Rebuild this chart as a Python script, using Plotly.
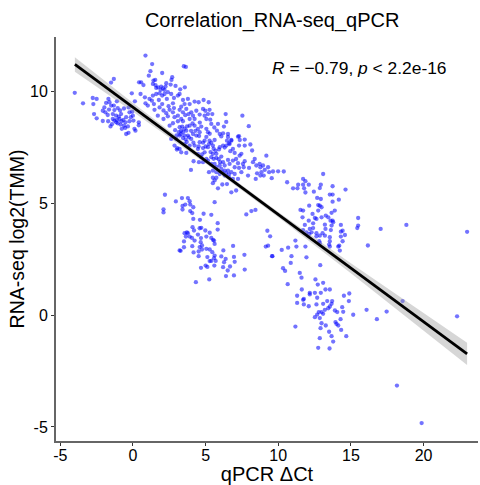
import plotly.graph_objects as go

# (qPCR dCt, RNA-seq log2 TMM) pairs, by visual cluster
left_cluster = [
(-4.01,9.95),(-3.44,9.48),(-2.77,9.72),(-2.5,9.68),(-2.73,9.45),(-2.68,9.0),(-2.5,8.81),(-2.08,8.69),
(-1.69,9.68),(-1.85,9.5),(-1.62,9.53),(-1.5,9.38),(-1.32,9.38),(-1.11,9.57),(-1.97,9.3),(-2.08,9.15),
(-1.9,9.08),(-1.74,8.96),(-1.71,8.68),(-1.39,9.0),(-1.28,9.18),(-1.05,9.27),(-0.89,9.16),(-0.82,9.0),
(-1.16,8.93),(-0.98,8.89),(-1.39,8.78),(-1.28,8.71),(-1.12,8.74),(-0.93,8.78),(-0.79,8.68),(-1.05,8.59),
(-0.86,8.53),(-1.16,8.63),(-0.77,8.34),(-0.54,8.38),(-0.47,8.11),(-0.31,8.16),(-0.66,8.74),(-0.47,8.86),
(-0.52,8.63),(-0.24,8.68),(-0.15,8.86),(-0.24,9.08),(-0.06,9.11),(-0.01,8.93),(0.03,8.71),(0.1,8.34),
(0.17,8.26),(0.4,8.63),(0.4,8.5),(0.13,9.57),(-1.32,10.57),(-1.51,10.41),(-0.08,9.93),(-1.55,8.45),
(-1.65,9.2),(-0.35,8.45),(-0.62,9.25),(-1.45,8.55),(-0.3,9.3),(-0.62,8.48),
]
upper_cluster = [
(0.86,11.62),(1.32,11.24),(1.2,10.92),(1.09,10.72),(3.5,11.14),(3.64,11.11),(2.01,10.84),(2.7,10.65),
(2.65,10.53),(1.41,10.5),(1.53,10.53),(1.37,10.35),(1.55,10.3),(0.72,10.3),(0.56,10.42),(0.42,10.42),
(1.73,10.2),(1.94,10.23),(2.29,10.38),(2.24,10.23),(2.06,10.15),(1.9,10.08),(2.17,10.08),(2.59,10.32),
(2.93,10.26),(3.57,10.2),(3.25,10.11),(1.6,9.9),(1.37,9.83),(1.6,10.17),(2.4,9.98),(2.63,9.9),(2.17,9.9),
(2.01,9.83),(1.83,9.93),(0.52,9.9),(0.82,9.75),(1.14,9.68),(1.44,9.45),(0.86,9.48),(1.02,9.38),(1.78,9.63),
(2.01,9.45),(2.33,9.68),(2.75,9.48),(2.82,9.72),(3.09,9.83),(3.21,9.9),(3.44,9.63),(3.78,9.68),(3.9,9.45),
(3.55,9.45),(3.32,9.33),(4.24,9.56),(4.52,9.53),(4.86,9.63),(5.21,9.53),(1.48,9.19),(1.83,9.3),(2.1,9.16),
(2.29,9.04),(2.52,9.19),(1.71,8.93),(2.75,9.08),(2.82,9.27),(3.21,9.19),(3.44,9.08),(3.67,9.23),(3.83,9.0),
(4.01,9.08),(4.13,8.93),(4.36,9.15),(4.82,9.23),(4.98,9.15),(5.27,9.19),(2.1,8.78),(2.86,8.86),(3.09,8.93),
(3.32,8.78),(3.09,8.68),(3.44,8.68),(2.75,8.59),(2.52,8.48),(3.9,8.78),(4.24,8.78),(4.59,8.98),(4.93,8.93),
(5.16,9.0),(5.46,9.0),(6.38,9.0),(5.05,8.78),(5.32,8.75),(5.39,8.56),(5.85,8.56),(6.42,8.65),(6.26,8.44),
(3.21,8.41),(3.39,8.44),(3.55,8.34),(3.32,8.26),(3.16,8.19),(3.44,8.19),(3.67,8.26),(3.9,8.48),(4.24,8.48),
(4.47,8.34),(4.7,8.44),(5.05,8.34),(5.16,8.19),(2.98,7.89),(3.44,7.93),(3.21,8.04),(3.55,8.04),(3.78,8.04),
(4.01,7.89),(4.13,8.11),(4.36,8.04),(4.59,8.19),(5.78,8.26),(5.97,8.11),(6.2,8.14),(6.54,8.11),(5.62,7.84),
(5.27,7.81),(4.93,7.81),(4.59,7.74),(4.24,7.59),(3.9,7.59),(3.55,7.66),(3.21,7.44),(2.86,7.59),(2.63,7.89),
(7.23,7.99),(7.35,7.84),(6.77,7.84),(6.47,7.81),(6.65,7.66),(6.2,7.59),(5.97,7.52),(5.5,7.59),(5.16,7.52),
(4.82,7.48),(4.47,7.44),(1.3,9.6),(2.45,9.35),(4.6,8.62),(5.6,8.4),(4.0,8.25),(3.0,8.05),(4.3,8.25),(3.7,7.75),
(6.08,8.0),(5.28,8.12),(5.05,7.98),(5.39,7.72),(4.82,7.72),(5.23,7.66),(5.55,7.45),(5.92,7.42),(5.68,7.36),
(6.31,7.5),(6.54,7.98),(4.52,7.55),(4.16,7.72),(3.85,7.96),(3.62,7.86),(3.28,8.1),(2.9,8.28),(3.72,8.45),
(4.1,8.58),(4.55,8.02),(3.05,7.48),(5.0,7.55),(5.34,7.3),(4.75,7.2),(5.55,7.0),(5.9,6.98),(2.4,8.9),(3.6,8.95),
]
middle_cluster = [
(7.97,8.46),(7.53,8.93),(7.3,8.01),(7.69,7.86),(8.08,7.64),(7.69,7.59),(7.3,7.59),(6.77,7.81),(6.61,7.7),
(6.43,7.59),(6.88,7.44),(6.7,7.34),(7.0,7.26),(7.46,7.22),(7.34,7.14),(8.2,7.37),(7.69,6.89),(7.57,6.77),
(7.62,6.62),(7.46,6.4),(7.99,6.59),(7.92,6.25),(8.38,6.99),(8.26,6.85),(8.72,6.77),(8.95,6.7),(8.77,6.62),
(8.49,6.7),(9.18,7.14),(9.3,6.62),(9.07,6.5),(8.54,6.35),(8.45,6.1),(8.77,6.25),(7.1,6.99),(7.23,6.8),
(6.88,6.92),(6.54,6.95),(6.2,6.85),(6.0,6.85),(6.31,6.7),(6.65,6.77),(7.0,6.62),(7.3,6.59),(5.97,6.7),
(5.74,6.62),(5.62,6.77),(5.39,6.77),(5.16,6.92),(6.08,6.55),(6.31,6.47),(6.54,6.47),(6.77,6.4),(7.0,6.32),
(7.23,6.1),(6.88,6.1),(6.61,6.17),(6.31,6.25),(5.97,6.32),(5.74,6.4),(5.5,6.47),(5.23,6.4),(5.5,6.15),
(5.62,6.03),(5.5,5.91),(5.74,6.15),(6.15,5.85),(6.47,5.87),(5.85,5.68),(7.1,5.58),(6.77,5.5),(3.99,6.5),
(4.82,6.85),(4.54,6.85),(4.17,6.89),(4.47,7.22),(4.7,7.07),(4.93,7.29),(5.05,6.99),(5.39,7.07),(5.5,7.22),
(5.74,7.22),(6.08,7.1),(5.74,7.04),(3.67,7.26),(3.32,7.29),(3.02,7.41),(6.4,6.35),(6.15,6.4),(6.6,6.3),
(8.84,6.4),(9.37,6.4),(9.64,6.43),(9.99,6.44),(10.38,6.43),(9.55,6.13),(9.0,6.25),
]
lower_left_cluster = [
(2.2,5.39),(2.95,5.09),(3.37,5.24),(3.78,5.24),(3.9,5.1),(3.6,4.95),(3.41,4.89),(3.94,4.95),(4.15,4.83),
(3.41,4.73),(3.94,4.66),(4.08,4.57),(2.1,4.74),(2.1,4.6),(5.62,5.06),(4.86,4.54),(5.39,4.49),(4.15,4.31),
(4.61,4.27),(5.83,4.12),(5.83,3.83),(4.1,3.94),(4.2,3.79),(4.59,3.89),(4.7,3.91),(4.98,3.79),(5.28,3.69),
(3.55,3.67),(3.71,3.7),(3.78,3.67),(3.64,3.52),(3.9,3.52),(4.06,3.46),(4.24,3.34),(4.47,3.61),(4.68,3.45),
(5.05,3.52),(5.39,3.46),(5.51,3.37),(5.58,3.34),(3.51,3.3),(3.51,3.04),(3.21,2.9),(3.28,2.88),(4.08,3.09),
(4.66,3.27),(4.75,3.12),(5.62,3.19),(4.59,3.05),(4.75,2.94),(4.17,2.81),(4.52,2.85),(4.52,2.64),(5.05,2.97),
(5.28,2.94),(5.46,2.82),(6.89,3.1),(6.22,2.9),(5.62,2.67),(5.58,2.55),(6.08,2.63),(6.38,2.52),(5.69,2.43),
(5.39,2.43),(5.28,2.42),(5.12,2.6),(6.27,2.37),(6.95,2.61),(7.0,2.39),(7.67,2.7),(5.0,2.22),(5.12,2.16),
(4.68,2.12),(5.6,2.22),(6.2,2.15),(6.68,2.18),(6.52,2.0),(7.69,2.04),(6.4,1.75),(6.95,1.78),(5.25,1.6),
(4.33,1.48),(7.8,4.51),(8.15,4.66),(8.43,4.71),
]
right_cluster = [
(13.09,6.32),(10.61,5.95),(11.71,6.1),(11.87,6.0),(12.1,5.84),(11.37,5.84),(11.02,5.68),(11.32,5.68),
(11.71,5.84),(11.78,5.68),(11.87,5.49),(12.45,5.53),(12.93,5.84),(12.86,5.69),(13.74,5.77),(14.63,5.62),
(12.68,5.25),(13.55,5.4),(13.74,5.4),(14.17,5.17),(13.74,5.08),(12.93,5.2),(12.13,4.9),(12.75,4.93),
(12.86,4.9),(12.98,4.83),(11.53,4.71),(11.71,4.68),(12.75,4.68),(13.89,4.68),(13.67,4.58),(12.36,4.53),
(11.67,4.38),(12.1,4.23),(12.52,4.35),(12.63,4.31),(12.98,4.38),(13.27,4.46),(13.44,4.38),(13.6,4.23),
(13.74,4.23),(12.4,4.11),(11.83,4.04),(13.21,4.05),(13.67,4.01),(13.78,4.16),(14.31,4.04),(15.5,4.35),
(15.5,4.01),(15.44,3.9),(11.71,3.81),(12.17,3.86),(12.4,3.9),(13.25,3.86),(13.62,3.81),(14.43,3.78),
(14.31,3.74),(11.94,3.71),(12.29,3.71),(12.63,3.67),(12.86,3.56),(13.05,3.67),(13.21,3.56),(13.55,3.49),
(14.59,3.59),(14.31,3.52),(12.63,3.53),(12.13,3.63),(12.82,3.31),(13.55,3.31),(14.43,3.31),(11.18,3.34),
(9.44,3.53),(9.25,3.78),(13.5,3.16),(13.55,3.07),(14.13,3.07),(14.2,3.11),(12.86,3.22),(14.24,2.89),
(9.14,3.07),(9.3,3.11),(10.68,3.02),(11.25,3.07),(10.24,2.92),(11.87,3.07),(9.6,2.64),(10.91,2.64),
(11.94,2.59),(9.57,2.64),(10.86,2.34),(10.33,2.1),(10.47,1.98),(11.48,1.89),(11.6,1.68),(10.65,1.39),
(12.89,2.24),(16.17,3.12),(17.05,3.86),(18.82,4.04),(23.0,3.73),
]
bottom_cluster = [
(12.56,1.6),(12.72,1.37),(13.09,1.45),(11.62,1.15),(13.25,1.15),(13.55,1.15),(12.17,1.0),(12.52,1.0),
(12.93,1.0),(12.17,0.93),(11.3,0.87),(14.52,0.87),(14.89,0.97),(11.76,0.73),(11.71,0.69),(12.68,0.78),
(11.3,0.55),(11.76,0.48),(12.1,0.4),(12.63,0.48),(13.09,0.51),(13.37,0.63),(13.71,0.63),(14.86,0.63),
(13.67,0.51),(13.55,0.39),(13.44,0.31),(13.21,0.24),(12.98,0.14),(12.79,0.14),(14.4,0.36),(13.9,0.21),
(14.06,0.14),(14.47,0.15),(15.16,0.02),(13.09,0.06),(12.68,0.03),(12.52,-0.09),(12.86,-0.13),(14.29,-0.18),
(13.94,-0.31),(12.98,-0.36),(13.27,-0.46),(14.01,-0.39),(14.13,-0.46),(11.18,-0.51),(12.91,-0.58),
(14.33,-0.66),(13.5,-0.74),(13.67,-0.94),(14.68,-0.94),(12.86,-1.03),(13.78,-1.18),(12.75,-1.46),(13.53,-1.49),
(16.08,0.24),(16.79,-0.18),(17.46,0.16),(18.56,0.63),(22.31,-0.05),(18.17,-3.15),(19.87,-4.83),
]

clusters = [left_cluster, upper_cluster, middle_cluster, lower_left_cluster, right_cluster, bottom_cluster]
qpcr_dct = [p[0] for c in clusters for p in c]
rnaseq_log2 = [p[1] for c in clusters for p in c]

fit_x = [-4, 0, 5, 10, 15, 20, 23]
fit_y = [11.22, 9.3, 6.9, 4.5, 2.1, -0.3, -1.73]
fit_halfwidth = [0.32, 0.2, 0.11, 0.12, 0.22, 0.38, 0.5]
x_ticks = [-5, 0, 5, 10, 15, 20]
y_ticks = [-5, 0, 5, 10]

fit_upper = [y + h for y, h in zip(fit_y, fit_halfwidth)]
fit_lower = [y - h for y, h in zip(fit_y, fit_halfwidth)]

FONT = "Liberation Sans, Arial, sans-serif"
fig = go.Figure()
fig.add_trace(go.Scatter(x=qpcr_dct, y=rnaseq_log2, mode="markers",
                         marker=dict(color="rgba(0,0,255,0.55)", size=4.3, line=dict(width=0)),
                         hoverinfo="skip", showlegend=False))
fig.add_trace(go.Scatter(x=fit_x + fit_x[::-1], y=fit_upper + fit_lower[::-1], mode="lines",
                         line=dict(width=0), fill="toself",
                         fillcolor="rgba(153,153,153,0.4)", hoverinfo="skip", showlegend=False))
fig.add_trace(go.Scatter(x=fit_x, y=fit_y, mode="lines", line=dict(color="black", width=2.8),
                         hoverinfo="skip", showlegend=False))

axis = dict(showgrid=False, zeroline=False, showline=True, linecolor="#666666", linewidth=2,
            ticks="outside", ticklen=3, tickwidth=1.2, tickcolor="#333333",
            tickfont=dict(family=FONT, size=16, color="black"))
fig.update_xaxes(axis, range=[-5.3, 23.75], tickvals=x_ticks, ticktext=[str(t) for t in x_ticks],
                 ticklabelstandoff=-4,
                 title=dict(text="qPCR ΔCt", font=dict(family=FONT, size=20, color="black"), standoff=5))
fig.update_yaxes(axis, range=[-5.63, 12.45], tickvals=y_ticks, ticktext=[str(t) for t in y_ticks],
                 title=dict(text="RNA-seq log2(TMM)", font=dict(family=FONT, size=19.5, color="black"), standoff=0))
fig.add_annotation(text="<i>R</i> = −0.79, <i>p</i> &lt; 2.2e-16", xref="paper", yref="paper",
                   x=0.72, y=0.923, yanchor="middle", xanchor="center", showarrow=False,
                   font=dict(family=FONT, size=17.4, color="black"))
fig.update_layout(width=480, height=485, paper_bgcolor="white", plot_bgcolor="white",
                  margin=dict(l=56, r=2, t=37, b=44),
                  title=dict(text="Correlation_RNA-seq_qPCR", x=0.567, xanchor="center", y=0.959, yanchor="middle",
                             font=dict(family=FONT, size=20, color="black")))
fig.write_html("out.html", config={"displayModeBar": False},
               post_script="document.body.style.margin='0';document.documentElement.style.overflow='hidden';")
